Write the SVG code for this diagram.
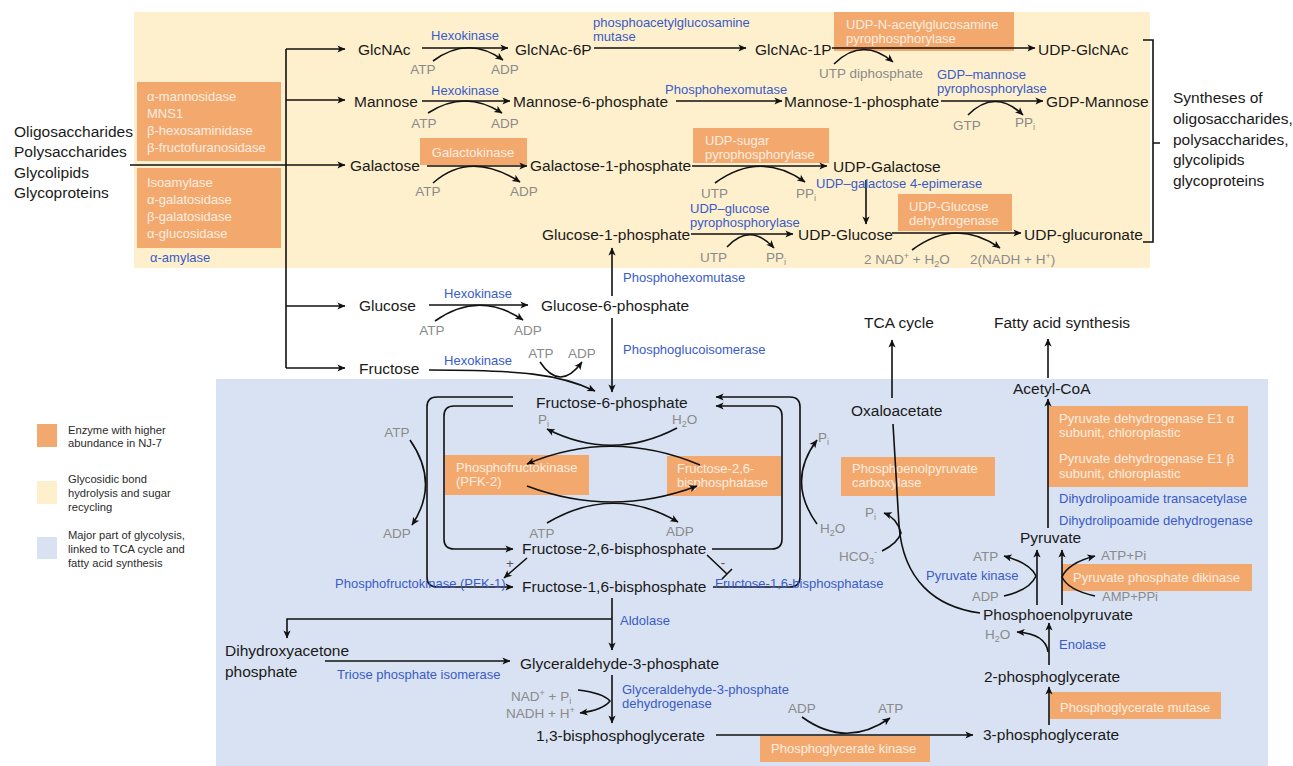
<svg xmlns="http://www.w3.org/2000/svg" width="1293" height="766" viewBox="0 0 1293 766">
<defs>
<marker id="ah" viewBox="0 0 10 10" refX="9.5" refY="5" markerWidth="9" markerHeight="8" markerUnits="userSpaceOnUse" orient="auto">
<path d="M0,0.5 L10,5 L0,9.5 L2.5,5 z" fill="#111"/>
</marker>
<style>
text{font-family:"Liberation Sans",Arial,sans-serif}
.m{font-size:15.5px;fill:#1a1a1a}
.e{font-size:13px;fill:#3a5bc7}
.c{font-size:13.5px;fill:#8a8a8a}
.w{font-size:13px;fill:#fdede1}
.lg{font-size:11.2px;fill:#2a2a2a}
.ob{fill:#f3a96d}
.ln{fill:none;stroke:#111;stroke-width:1.6}
.ar{marker-end:url(#ah)}
.s{font-size:9px}
</style>
</defs>

<g id="backgrounds">
<rect x="134" y="12" width="1016" height="256" fill="#fef0cd"/>
<rect x="216" y="379" width="1052" height="387" fill="#d9e2f2"/>
</g>

<g id="legend">
<rect x="37" y="424" width="20" height="23" fill="#f3a96d"/>
<text class="lg" x="68" y="434">Enzyme with higher</text>
<text class="lg" x="68" y="447">abundance in NJ-7</text>
<rect x="37" y="481" width="20" height="23" fill="#fef0cd"/>
<text class="lg" x="68" y="483">Glycosidic bond</text>
<text class="lg" x="68" y="497">hydrolysis and sugar</text>
<text class="lg" x="68" y="511">recycling</text>
<rect x="37" y="537" width="20" height="22" fill="#d9e2f2"/>
<text class="lg" x="68" y="539">Major part of glycolysis,</text>
<text class="lg" x="68" y="553">linked to TCA cycle and</text>
<text class="lg" x="68" y="567">fatty acid synthesis</text>
</g>

<g id="enz-hydrolases1"><rect class="ob" x="137" y="82" width="144" height="79"/>
<text class="w" x="147" y="101">α-mannosidase</text><text class="w" x="147" y="118">MNS1</text><text class="w" x="147" y="135">β-hexosaminidase</text><text class="w" x="147" y="152">β-fructofuranosidase</text></g>
<g id="enz-hydrolases2"><rect class="ob" x="137" y="168" width="144" height="80"/>
<text class="w" x="147" y="187">Isoamylase</text><text class="w" x="147" y="204">α-galatosidase</text><text class="w" x="147" y="221">β-galatosidase</text><text class="w" x="147" y="238">α-glucosidase</text></g>
<g id="enz-udpnag"><rect class="ob" x="834" y="12" width="180" height="39"/>
<text class="w" x="846" y="29">UDP-N-acetylglucosamine</text><text class="w" x="846" y="43">pyrophosphorylase</text></g>
<g id="enz-galk"><rect class="ob" x="420" y="138" width="107" height="27"/>
<text class="w" x="473" y="157" text-anchor="middle">Galactokinase</text></g>
<g id="enz-udpsugar"><rect class="ob" x="693" y="128" width="136" height="35"/>
<text class="w" x="705" y="145">UDP-sugar</text><text class="w" x="705" y="159">pyrophosphorylase</text></g>
<g id="enz-ugdh"><rect class="ob" x="898" y="194" width="114" height="37"/>
<text class="w" x="909" y="211">UDP-Glucose</text><text class="w" x="909" y="225">dehydrogenase</text></g>
<g id="enz-pfk2"><rect class="ob" x="445" y="455" width="144" height="40"/>
<text class="w" x="456" y="472">Phosphofructokinase</text><text class="w" x="456" y="486">(PFK-2)</text></g>
<g id="enz-f26bpase"><rect class="ob" x="667" y="456" width="114" height="40"/>
<text class="w" x="677" y="473">Fructose-2,6-</text><text class="w" x="677" y="487">bisphosphatase</text></g>
<g id="enz-pepc"><rect class="ob" x="841" y="457" width="154" height="39"/>
<text class="w" x="852" y="473">Phosphoenolpyruvate</text><text class="w" x="852" y="487">carboxylase</text></g>
<g id="enz-pdh"><rect class="ob" x="1048" y="406" width="200" height="81"/>
<text class="w" x="1059" y="423">Pyruvate dehydrogenase E1 α</text><text class="w" x="1059" y="437">subunit, chloroplastic</text>
<text class="w" x="1059" y="463">Pyruvate dehydrogenase E1 β</text><text class="w" x="1059" y="478">subunit, chloroplastic</text></g>
<g id="enz-ppdk"><rect class="ob" x="1062" y="564" width="190" height="27"/>
<text class="w" x="1073" y="582">Pyruvate phosphate dikinase</text></g>
<g id="enz-pgm"><rect class="ob" x="1050" y="692" width="171" height="27"/>
<text class="w" x="1060" y="712">Phosphoglycerate mutase</text></g>
<g id="enz-pgk"><rect class="ob" x="760" y="736" width="170" height="26"/>
<text class="w" x="771" y="753">Phosphoglycerate kinase</text></g>

<g id="connectors">
<path class="ln" d="M130,165 H286 M286,49 V368"/>
<path class="ln ar" d="M286,49 H345"/>
<path class="ln ar" d="M286,100 H345"/>
<path class="ln ar" d="M286,165 H345"/>
<path class="ln ar" d="M286,306 H345"/>
<path class="ln ar" d="M286,368 H345"/>
<path class="ln ar" d="M422,48 H508"/>
<path class="ln ar" d="M433,61 Q468,35 503,60"/>
<path class="ln ar" d="M594,48 H746"/>
<path class="ln ar" d="M832,48 H1035"/>
<path class="ln ar" d="M834,64 Q862,36 893,62"/>
<path class="ln ar" d="M422,101 H510"/>
<path class="ln ar" d="M428,113 Q465,89 502,113"/>
<path class="ln ar" d="M676,101 H782"/>
<path class="ln ar" d="M941,101 H1043"/>
<path class="ln ar" d="M968,115 Q995,88 1023,115"/>
<path class="ln ar" d="M427,166 H527"/>
<path class="ln ar" d="M433,183 Q470,150 520,182"/>
<path class="ln ar" d="M692,166 H827"/>
<path class="ln ar" d="M715,183 Q760,150 805,182"/>
<path class="ln ar" d="M866,180 V224"/>
<path class="ln ar" d="M691,234 H793"/>
<path class="ln ar" d="M727,247 Q750,222 774,248"/>
<path class="ln ar" d="M892,233 H1021"/>
<path class="ln ar" d="M912,250 Q956,217 1000,248"/>
<path class="ln" d="M1143,40 H1153 V242 H1143 M1153,143 H1160" stroke-width="1.4"/>
<path class="ln ar" d="M612,296 V248"/>
<path class="ln ar" d="M429,305 H528"/>
<path class="ln ar" d="M435,321 Q479,290 523,320"/>
<path class="ln ar" d="M612,318 V392"/>
<path class="ln ar" d="M429,370 C520,370 560,374 595,391"/>
<path class="ln ar" d="M540,362 Q560,392 582,362"/>
<path class="ln ar" d="M513,397 H437 Q427,397 427,407 V577 Q427,587 437,587 H513"/>
<path class="ln ar" d="M513,406 H454 Q444,406 444,416 V539 Q444,549 454,549 H513"/>
<path class="ln ar" d="M713,587 H790 Q800,587 800,577 V407 Q800,397 790,397 H716"/>
<path class="ln ar" d="M712,549 H772 Q782,549 782,539 V416 Q782,406 772,406 H716"/>
<path class="ln ar" d="M410,440 Q440,483 412,525"/>
<path class="ln ar" d="M817,524 Q786,481 817,440"/>
<path class="ln ar" d="M677,428 Q612,462 547,429"/>
<path class="ln ar" d="M700,465 Q612,428 527,464"/>
<path class="ln ar" d="M527,486 Q612,518 697,486"/>
<path class="ln ar" d="M547,523 Q613,484 678,522"/>
<path class="ln ar" d="M527,558 L504,578" stroke-width="2.4"/>
<path class="ln" d="M707,555 L727,574 M722,579 L732,569" stroke-width="2"/>
<path class="ln ar" d="M612,598 V650"/>
<path class="ln ar" d="M612,619 H287 V638"/>
<path class="ln ar" d="M325,661 H510"/>
<path class="ln ar" d="M612,675 V723"/>
<path class="ln ar" d="M578,690 Q603,693 610,701 Q603,710 580,713"/>
<path class="ln ar" d="M716,735 H973"/>
<path class="ln ar" d="M802,717 Q846,749 890,718"/>
<path class="ln ar" d="M892,398 V340"/>
<path class="ln" d="M893,424 L899,525 C903,580 935,607 980,613"/>
<path class="ln ar" d="M882,551 Q898,543 901,533 Q897,518 884,513"/>
<path class="ln ar" d="M1048,378 V339"/>
<path class="ln ar" d="M1048,528 V399"/>
<path class="ln ar" d="M1037,605 V550"/>
<path class="ln ar" d="M1062,605 V550"/>
<path class="ln ar" d="M1004,596 Q1030,590 1036,576 Q1030,563 1004,556"/>
<path class="ln ar" d="M1095,596 Q1068,590 1062,577 Q1068,563 1095,556"/>
<path class="ln ar" d="M1049,665 V623"/>
<path class="ln ar" d="M1048,652 Q1046,634 1017,632"/>
<path class="ln ar" d="M1049,725 V687"/>
</g>

<g id="n-sources"><text class="m" x="14" y="137">Oligosaccharides</text><text class="m" x="14" y="157">Polysaccharides</text><text class="m" x="14" y="178">Glycolipids</text><text class="m" x="14" y="198">Glycoproteins</text></g>
<g id="lbl-amylase"><text class="e" x="150" y="262">α-amylase</text></g>

<g id="n-glcnac"><text class="m" x="358" y="55">GlcNAc</text></g>
<g id="n-glcnac6p"><text class="m" x="515" y="55">GlcNAc-6P</text></g>
<g id="n-glcnac1p"><text class="m" x="755" y="55">GlcNAc-1P</text></g>
<g id="n-udpglcnac"><text class="m" x="1038" y="55">UDP-GlcNAc</text></g>
<g id="lbl-row1">
<text class="e" x="465" y="40" text-anchor="middle">Hexokinase</text>
<text class="c" x="423" y="74" text-anchor="middle">ATP</text><text class="c" x="505" y="74" text-anchor="middle">ADP</text>
<text class="e" x="593" y="27">phosphoacetylglucosamine</text><text class="e" x="593" y="41">mutase</text>
<text class="c" x="819" y="78">UTP diphosphate</text>
</g>

<g id="n-mannose"><text class="m" x="354" y="107">Mannose</text></g>
<g id="n-man6p"><text class="m" x="513" y="107">Mannose-6-phosphate</text></g>
<g id="n-man1p"><text class="m" x="784" y="107">Mannose-1-phosphate</text></g>
<g id="n-gdpman"><text class="m" x="1046" y="107">GDP-Mannose</text></g>
<g id="lbl-row2">
<text class="e" x="465" y="95" text-anchor="middle">Hexokinase</text>
<text class="c" x="424" y="128" text-anchor="middle">ATP</text><text class="c" x="505" y="128" text-anchor="middle">ADP</text>
<text class="e" x="665" y="94">Phosphohexomutase</text>
<text class="e" x="937" y="79">GDP–mannose</text><text class="e" x="937" y="93">pyrophosphorylase</text>
<text class="c" x="953" y="130">GTP</text>
<text class="c" x="1015" y="127">PP<tspan class="s" dy="3">i</tspan></text>
</g>

<g id="n-galactose"><text class="m" x="350" y="171">Galactose</text></g>
<g id="n-gal1p"><text class="m" x="530" y="171">Galactose-1-phosphate</text></g>
<g id="n-udpgal"><text class="m" x="833" y="172">UDP-Galactose</text></g>
<g id="lbl-row3">
<text class="c" x="428" y="196" text-anchor="middle">ATP</text><text class="c" x="524" y="196" text-anchor="middle">ADP</text>
<text class="c" x="701" y="198">UTP</text>
<text class="c" x="796" y="198">PP<tspan class="s" dy="3">i</tspan></text>
<text class="e" x="816" y="188">UDP–galactose 4-epimerase</text>
</g>

<g id="n-glc1p"><text class="m" x="542" y="240">Glucose-1-phosphate</text></g>
<g id="n-udpglc"><text class="m" x="798" y="240">UDP-Glucose</text></g>
<g id="n-udpglcA"><text class="m" x="1024" y="240">UDP-glucuronate</text></g>
<g id="lbl-row4">
<text class="e" x="690" y="213">UDP–glucose</text><text class="e" x="690" y="227">pyrophosphorylase</text>
<text class="c" x="700" y="262">UTP</text>
<text class="c" x="766" y="262">PP<tspan class="s" dy="3">i</tspan></text>
<text class="c" x="864" y="264">2 NAD<tspan class="s" dy="-5">+</tspan><tspan dy="5"> + H</tspan><tspan class="s" dy="3">2</tspan><tspan dy="-3">O</tspan></text>
<text class="c" x="970" y="264">2(NADH + H<tspan class="s" dy="-5">+</tspan><tspan dy="5">)</tspan></text>
</g>

<g id="n-syntheses"><text class="m" x="1173" y="103">Syntheses of</text><text class="m" x="1173" y="124">oligosaccharides,</text><text class="m" x="1173" y="145">polysaccharides,</text><text class="m" x="1173" y="165">glycolipids</text><text class="m" x="1173" y="186">glycoproteins</text></g>

<g id="n-glucose"><text class="m" x="359" y="311">Glucose</text></g>
<g id="n-glc6p"><text class="m" x="541" y="311">Glucose-6-phosphate</text></g>
<g id="n-fructose"><text class="m" x="359" y="374">Fructose</text></g>
<g id="lbl-glc">
<text class="e" x="623" y="282">Phosphohexomutase</text>
<text class="e" x="478" y="298" text-anchor="middle">Hexokinase</text>
<text class="c" x="432" y="335" text-anchor="middle">ATP</text><text class="c" x="528" y="335" text-anchor="middle">ADP</text>
<text class="e" x="623" y="354">Phosphoglucoisomerase</text>
<text class="e" x="478" y="365" text-anchor="middle">Hexokinase</text>
<text class="c" x="541" y="358" text-anchor="middle">ATP</text><text class="c" x="582" y="358" text-anchor="middle">ADP</text>
</g>

<g id="n-f6p"><text class="m" x="536" y="408">Fructose-6-phosphate</text></g>
<g id="n-f26bp"><text class="m" x="522" y="554">Fructose-2,6-bisphosphate</text></g>
<g id="n-f16bp"><text class="m" x="522" y="592">Fructose-1,6-bisphosphate</text></g>
<g id="lbl-pfk">
<text class="c" x="397" y="437" text-anchor="middle">ATP</text><text class="c" x="397" y="538" text-anchor="middle">ADP</text>
<text class="c" x="538" y="424">P<tspan class="s" dy="3">i</tspan></text>
<text class="c" x="672" y="424">H<tspan class="s" dy="3">2</tspan><tspan dy="-3">O</tspan></text>
<text class="c" x="542" y="538" text-anchor="middle">ATP</text><text class="c" x="680" y="536" text-anchor="middle">ADP</text>
<text class="c" x="818" y="442">P<tspan class="s" dy="3">i</tspan></text>
<text class="c" x="820" y="533">H<tspan class="s" dy="3">2</tspan><tspan dy="-3">O</tspan></text>
<text class="c" x="510" y="568" text-anchor="middle" style="fill:#555">+</text>
<text class="c" x="723" y="567" text-anchor="middle" style="fill:#555">-</text>
<text class="e" x="335" y="588">Phosphofructokinase (PFK-1)</text>
<text class="e" x="715" y="588">Fructose-1,6-bisphosphatase</text>
</g>

<g id="n-dhap"><text class="m" x="225" y="656">Dihydroxyacetone</text><text class="m" x="225" y="677">phosphate</text></g>
<g id="n-g3p"><text class="m" x="520" y="669">Glyceraldehyde-3-phosphate</text></g>
<g id="n-13bpg"><text class="m" x="536" y="741">1,3-bisphosphoglycerate</text></g>
<g id="lbl-lower">
<text class="e" x="620" y="625">Aldolase</text>
<text class="e" x="337" y="679">Triose phosphate isomerase</text>
<text class="e" x="622" y="694">Glyceraldehyde-3-phosphate</text><text class="e" x="622" y="708">dehydrogenase</text>
<text class="c" x="511" y="701">NAD<tspan class="s" dy="-5">+</tspan><tspan dy="5"> + P</tspan><tspan class="s" dy="3">i</tspan></text>
<text class="c" x="506" y="718">NADH + H<tspan class="s" dy="-5">+</tspan></text>
<text class="c" x="788" y="713">ADP</text><text class="c" x="878" y="713">ATP</text>
</g>

<g id="n-tca"><text class="m" x="864" y="328">TCA cycle</text></g>
<g id="n-fas"><text class="m" x="994" y="328">Fatty acid synthesis</text></g>
<g id="n-oaa"><text class="m" x="851" y="416">Oxaloacetate</text></g>
<g id="n-acoa"><text class="m" x="1013" y="394">Acetyl-CoA</text></g>
<g id="n-pyr"><text class="m" x="1020" y="543">Pyruvate</text></g>
<g id="n-pep"><text class="m" x="983" y="620">Phosphoenolpyruvate</text></g>
<g id="n-2pg"><text class="m" x="984" y="682">2-phosphoglycerate</text></g>
<g id="n-3pg"><text class="m" x="983" y="740">3-phosphoglycerate</text></g>
<g id="lbl-right">
<text class="c" x="865" y="517">P<tspan class="s" dy="3">i</tspan></text>
<text class="c" x="839" y="561">HCO<tspan class="s" dy="3">3</tspan><tspan class="s" dy="-9">-</tspan></text>
<text class="e" x="1059" y="503">Dihydrolipoamide transacetylase</text>
<text class="e" x="1059" y="525">Dihydrolipoamide dehydrogenase</text>
<text class="c" x="973" y="561">ATP</text>
<text class="e" x="926" y="580">Pyruvate kinase</text>
<text class="c" x="972" y="601" style="font-size:13px">ADP</text>
<text class="c" x="1102" y="601" style="font-size:13px">AMP+PPi</text>
<text class="c" x="1101" y="560">ATP+Pi</text>
<text class="c" x="985" y="639">H<tspan class="s" dy="3">2</tspan><tspan dy="-3">O</tspan></text>
<text class="e" x="1059" y="649">Enolase</text>
</g>
</svg>
